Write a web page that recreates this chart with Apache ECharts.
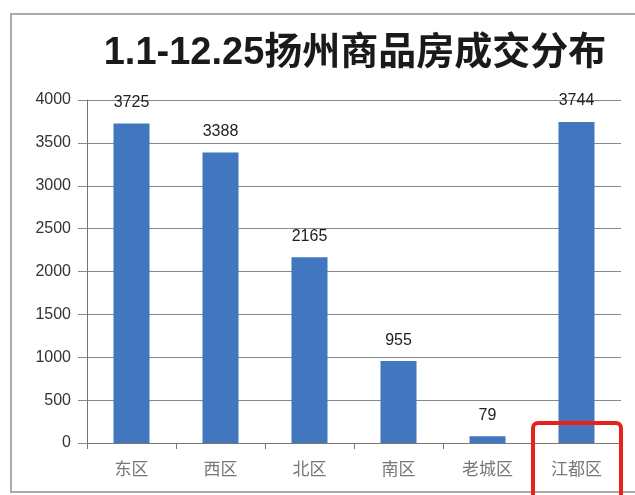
<!DOCTYPE html>
<html>
<head>
  <meta charset="utf-8">
  <title>扬州商品房成交分布</title>
  <style type="text/css">
    html, body { margin: 0; padding: 0; background: #fff; }
    #main { width: 635px; height: 495px; }
  </style>
</head>
<body>
<div id="main"></div>
<script type="text/javascript" src="https://cdn.jsdelivr.net/npm/echarts@6/dist/echarts.min.js"></script>
<script type="text/javascript">
  var titleText = '1.1-12.25扬州商品房成交分布';
  var districts = ['东区', '西区', '北区', '南区', '老城区', '江都区'];
  var deals = [3725, 3388, 2165, 955, 79, 3744];
  var yTicks = { min: 0, max: 4000, interval: 500 };

  var myChart = echarts.init(document.getElementById('main'));

  var option = {
    animation: false,
    backgroundColor: '#fff',
    title: {
      text: titleText,
      left: 350,
      top: 30,
      textAlign: 'center',
      textStyle: {
        fontFamily: 'Liberation Sans, "Noto Sans CJK SC", sans-serif',
        fontSize: 38,
        fontWeight: 'bold',
        color: '#1a1a1a'
      }
    },
    grid: { left: 87, right: 14, top: 100, bottom: 52 },
    xAxis: {
      type: 'category',
      data: districts,
      axisLine: { lineStyle: { color: '#777', width: 1 } },
      axisTick: { show: true, length: 6, lineStyle: { color: '#777' } },
      axisLabel: {
        margin: 17,
        fontSize: 17,
        color: '#777',
        fontFamily: '"Noto Sans CJK SC", sans-serif'
      }
    },
    yAxis: {
      type: 'value',
      min: yTicks.min,
      max: yTicks.max,
      interval: yTicks.interval,
      axisLine: { show: true, lineStyle: { color: '#777', width: 1 } },
      axisTick: { show: true, length: 9, lineStyle: { color: '#888' } },
      splitLine: { lineStyle: { color: '#888', width: 1 } },
      axisLabel: {
        margin: 16,
        fontSize: 16,
        color: '#333',
        fontFamily: 'Liberation Sans, sans-serif',
        formatter: function (v) { return String(v); }
      }
    },
    series: [{
      type: 'bar',
      data: deals,
      barWidth: 36,
      itemStyle: { color: '#4276be' },
      label: {
        show: true,
        position: 'top',
        distance: 13,
        fontSize: 16,
        color: '#222',
        fontFamily: 'Liberation Sans, sans-serif'
      }
    }],
    graphic: [
      {
        type: 'rect',
        shape: { x: 11, y: 14, width: 640, height: 478 },
        style: { fill: null, stroke: '#aaa', lineWidth: 2 },
        silent: true
      },
      {
        type: 'rect',
        shape: { x: 533, y: 423, width: 88, height: 90, r: 5 },
        style: { fill: null, stroke: '#e8211b', lineWidth: 4 },
        silent: true,
        z: 100
      }
    ]
  };

  myChart.setOption(option);
</script>
</body>
</html>
